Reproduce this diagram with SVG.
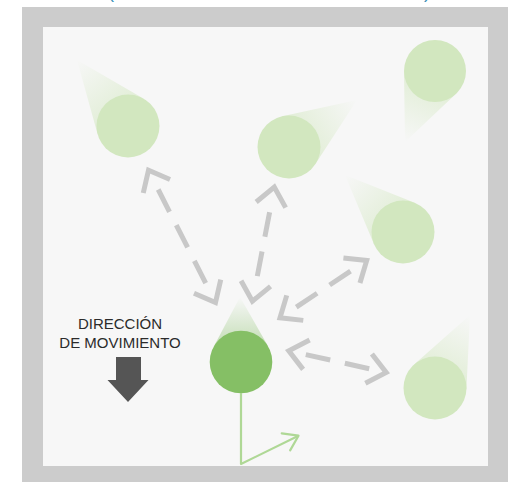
<svg xmlns="http://www.w3.org/2000/svg" width="514" height="482" viewBox="0 0 514 482">
  <style>
    .frame { fill: #cccccc; }
    .inner { fill: #f7f7f7; }
    .ball { fill: #d2e7bf; }
    .ball-main { fill: #85bf65; }
    .dash { fill: none; stroke: #c8c8c8; stroke-width: 5; stroke-dasharray: 25 15; }
    .heads { fill: none; stroke: none; marker-start: url(#gh); marker-end: url(#gh); }
    .label { font-family: "Liberation Sans", Arial, sans-serif; font-size: 15px; fill: #2b2b2b; text-anchor: middle; }
    .title { font-family: "Liberation Sans", Arial, sans-serif; font-size: 18px; fill: #3a90b8; }
    .vec { fill: none; stroke: #afd896; stroke-width: 2.2; stroke-linejoin: round; }
  </style>
  <defs>
    <marker id="gh" markerUnits="userSpaceOnUse" viewBox="-26 -20 32 40" refX="0" refY="0" markerWidth="32" markerHeight="40" orient="auto-start-reverse">
      <path d="M-18,-15 L0,0 L-18,15" fill="none" stroke="#c8c8c8" stroke-width="5" stroke-linejoin="miter"/>
    </marker>
    <marker id="vh" markerUnits="userSpaceOnUse" viewBox="-20 -14 24 28" refX="0" refY="0" markerWidth="24" markerHeight="28" orient="auto">
      <path d="M-14,-9.5 L0,0 L-14,9.5" fill="none" stroke="#afd896" stroke-width="2.2" stroke-linejoin="round" stroke-linecap="round"/>
    </marker>
    <linearGradient id="t1" gradientUnits="userSpaceOnUse" x1="77" y1="60" x2="128" y2="126">
      <stop offset="0" stop-color="#d2e7bf" stop-opacity="0"/>
      <stop offset="1" stop-color="#d2e7bf" stop-opacity="0.7"/>
    </linearGradient>
    <linearGradient id="t2" gradientUnits="userSpaceOnUse" x1="405" y1="142" x2="435" y2="71">
      <stop offset="0" stop-color="#d2e7bf" stop-opacity="0"/>
      <stop offset="1" stop-color="#d2e7bf" stop-opacity="0.7"/>
    </linearGradient>
    <linearGradient id="t3" gradientUnits="userSpaceOnUse" x1="357" y1="100" x2="289" y2="147">
      <stop offset="0" stop-color="#d2e7bf" stop-opacity="0"/>
      <stop offset="1" stop-color="#d2e7bf" stop-opacity="0.7"/>
    </linearGradient>
    <linearGradient id="t4" gradientUnits="userSpaceOnUse" x1="345" y1="175" x2="403" y2="232">
      <stop offset="0" stop-color="#d2e7bf" stop-opacity="0"/>
      <stop offset="1" stop-color="#d2e7bf" stop-opacity="0.7"/>
    </linearGradient>
    <linearGradient id="t5" gradientUnits="userSpaceOnUse" x1="470" y1="315" x2="435" y2="388">
      <stop offset="0" stop-color="#d2e7bf" stop-opacity="0"/>
      <stop offset="1" stop-color="#d2e7bf" stop-opacity="0.7"/>
    </linearGradient>
    <linearGradient id="t6" gradientUnits="userSpaceOnUse" x1="240" y1="297" x2="241" y2="362">
      <stop offset="0" stop-color="#85bf65" stop-opacity="0"/>
      <stop offset="1" stop-color="#85bf65" stop-opacity="0.6"/>
    </linearGradient>
  </defs>

  <rect width="514" height="482" fill="#ffffff"/>
  <text class="title" x="108" y="-2">(</text>
  <text class="title" x="424" y="-2">)</text>
  <rect class="frame" x="22" y="7" width="486" height="480"/>
  <rect class="inner" x="43" y="27" width="445" height="439"/>

  <g id="ball-1">
    <polygon points="77,60 143.8,98.8 128,126 97.7,134.4" fill="url(#t1)"/>
    <circle class="ball" cx="128" cy="126" r="31.5"/>
  </g>
  <g id="ball-2">
    <polygon points="405,142 404,71.4 435,71 456.3,93.5" fill="url(#t2)"/>
    <circle class="ball" cx="435" cy="71" r="31"/>
  </g>
  <g id="ball-3">
    <polygon points="357,100 315.4,164.1 289,147 282.3,116.3" fill="url(#t3)"/>
    <circle class="ball" cx="289" cy="147" r="31.5"/>
  </g>
  <g id="ball-4">
    <polygon points="345,175 414.7,202.8 403,232 374,244.2" fill="url(#t4)"/>
    <circle class="ball" cx="403" cy="232" r="31.5"/>
  </g>
  <g id="ball-5">
    <polygon points="470,315 466.4,389.5 435,388 414.1,364.4" fill="url(#t5)"/>
    <circle class="ball" cx="435" cy="388" r="31.5"/>
  </g>
  <g id="ball-main">
    <polygon points="240,297 268.2,346.5 241,362 213.4,347.3" fill="url(#t6)"/>
    <circle class="ball-main" cx="241" cy="362" r="31.3"/>
  </g>

  <g id="connectors">
    <g id="conn-a">
      <path class="dash" d="M158.2,189.5 L205.7,283.2"/>
      <path class="heads" d="M148.5,170.2 L215.5,302.5"/>
    </g>
    <g id="conn-b">
      <path class="dash" d="M269.6,212.3 L257.3,276.1"/>
      <path class="heads" d="M274.3,187.1 L252.4,301.2"/>
    </g>
    <g id="conn-c">
      <path class="dash" d="M350.5,271.2 L296.2,307.1"/>
      <path class="heads" d="M366.7,260.5 L280,317.8"/>
    </g>
    <g id="conn-d">
      <path class="dash" d="M305.8,354.6 L369.2,368.7"/>
      <path class="heads" d="M288.8,350.8 L386.2,372.5"/>
    </g>
    <g id="velocity">
      <path class="vec" d="M241,393 L241,464 L298.5,435.7" marker-end="url(#vh)"/>
    </g>
  </g>

  <g id="legend">
    <text class="label" x="120" y="329">DIRECCIÓN</text>
    <text class="label" x="120" y="348">DE MOVIMIENTO</text>
    <polygon points="116,357 141,357 141,380 148.5,380 128,402 107.5,380 116,380" fill="#555555"/>
  </g>
</svg>
